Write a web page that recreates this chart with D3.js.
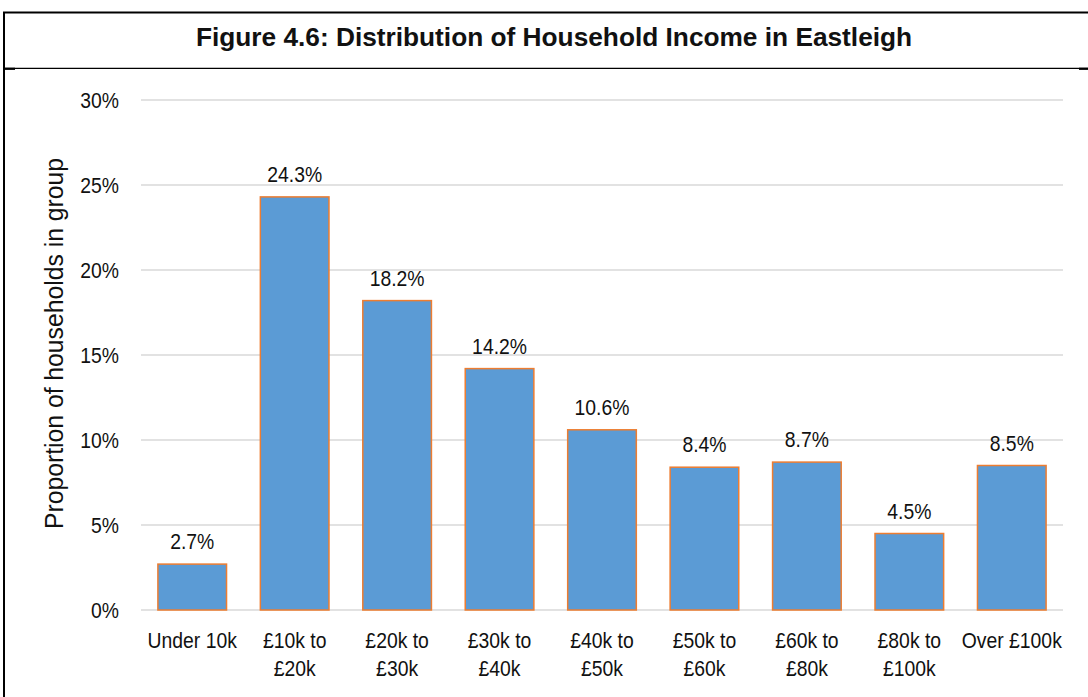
<!DOCTYPE html>
<html>
<head>
<meta charset="utf-8">
<script src="https://cdn.jsdelivr.net/npm/d3@7"></script>
<style>
  html, body { margin: 0; padding: 0; background: #fff; }
  svg { display: block; font-family: "Liberation Sans", Arial, sans-serif; }
</style>
</head>
<body>
<svg id="chart" width="1088" height="697"></svg>
<script>
// Income bands and share of households in each
const categories = [
  ["Under 10k"],
  ["£10k to", "£20k"],
  ["£20k to", "£30k"],
  ["£30k to", "£40k"],
  ["£40k to", "£50k"],
  ["£50k to", "£60k"],
  ["£60k to", "£80k"],
  ["£80k to", "£100k"],
  ["Over £100k"]
];
const shares = [2.7, 24.3, 18.2, 14.2, 10.6, 8.4, 8.7, 4.5, 8.5];
const yTicks = [0, 5, 10, 15, 20, 25, 30];

const svg = d3.select("#chart");
const W = 1088, H = 697;

// Body text is set slightly condensed
const FS = 22, SX = 0.88;

// Frame: left and top border, title panel divider
svg.append("line")
  .attr("x1", 4).attr("x2", 4).attr("y1", 12).attr("y2", H)
  .attr("stroke", "#000").attr("stroke-width", 2);
svg.append("line")
  .attr("x1", 3).attr("x2", W).attr("y1", 12.5).attr("y2", 12.5)
  .attr("stroke", "#000").attr("stroke-width", 2.2);
svg.append("line")
  .attr("x1", 4).attr("x2", W).attr("y1", 68.3).attr("y2", 68.3)
  .attr("stroke", "#000").attr("stroke-width", 1.3);
svg.append("line")
  .attr("x1", 3).attr("x2", 15).attr("y1", 68.8).attr("y2", 68.8)
  .attr("stroke", "#000").attr("stroke-width", 2.2);
svg.append("line")
  .attr("x1", 1079).attr("x2", W).attr("y1", 68.8).attr("y2", 68.8)
  .attr("stroke", "#000").attr("stroke-width", 2.2);

svg.append("text")
  .attr("transform", "translate(554,46) scale(1.03,1)")
  .attr("text-anchor", "middle")
  .attr("font-weight", "bold")
  .attr("font-size", 25.5)
  .attr("fill", "#111")
  .text("Figure 4.6: Distribution of Household Income in Eastleigh");

const plot = { left: 141, right: 1063, top: 100, bottom: 610 };

const x = d3.scaleBand()
  .domain(d3.range(categories.length))
  .range([plot.left, plot.right])
  .paddingInner(0.33)
  .paddingOuter(0.165);

const y = d3.scaleLinear()
  .domain([0, 30])
  .range([plot.bottom, plot.top]);

// Gridlines
svg.append("g")
  .selectAll("line")
  .data(yTicks)
  .join("line")
  .attr("x1", plot.left).attr("x2", plot.right)
  .attr("y1", d => y(d)).attr("y2", d => y(d))
  .attr("stroke", "#d9d9d9").attr("stroke-width", 1.4);

// Y axis tick labels
const yAxis = d3.axisLeft(y)
  .tickValues(yTicks)
  .tickFormat(d => d + "%")
  .tickSize(0)
  .tickPadding(22);
const gy = svg.append("g")
  .attr("transform", `translate(${plot.left},0)`)
  .call(yAxis);
gy.select(".domain").remove();
gy.selectAll(".tick text")
  .attr("font-size", FS)
  .attr("font-family", "Liberation Sans, Arial, sans-serif")
  .attr("fill", "#111")
  .attr("x", -22 / SX)
  .attr("dy", "0.34em")
  .attr("transform", `scale(${SX},1)`);

// Y axis title
svg.append("text")
  .attr("transform", `translate(63,${343.5}) rotate(-90) scale(0.97,1)`)
  .attr("text-anchor", "middle")
  .attr("font-size", 25.5)
  .attr("fill", "#111")
  .text("Proportion of households in group");

// Bars
svg.append("g")
  .selectAll("rect")
  .data(shares)
  .join("rect")
  .attr("x", (d, i) => x(i))
  .attr("y", d => y(d))
  .attr("width", x.bandwidth())
  .attr("height", d => y(0) - y(d))
  .attr("fill", "#5b9bd5")
  .attr("stroke", "#ed7d31")
  .attr("stroke-width", 1.5);

// Value labels
svg.append("g")
  .selectAll("text")
  .data(shares)
  .join("text")
  .attr("transform", (d, i) =>
    `translate(${x(i) + x.bandwidth() / 2},${y(d) - 15}) scale(${SX},1)`)
  .attr("text-anchor", "middle")
  .attr("font-size", FS)
  .attr("fill", "#111")
  .text(d => d.toFixed(1) + "%");

// Category labels
const xl = svg.append("g")
  .selectAll("text")
  .data(categories)
  .join("text")
  .attr("transform", (d, i) =>
    `translate(${x(i) + x.bandwidth() / 2},648) scale(${SX},1)`)
  .attr("text-anchor", "middle")
  .attr("font-size", FS)
  .attr("fill", "#111");
xl.selectAll("tspan")
  .data(d => d)
  .join("tspan")
  .attr("x", 0)
  .attr("dy", (d, i) => i === 0 ? 0 : 28)
  .text(d => d);
</script>
</body>
</html>
